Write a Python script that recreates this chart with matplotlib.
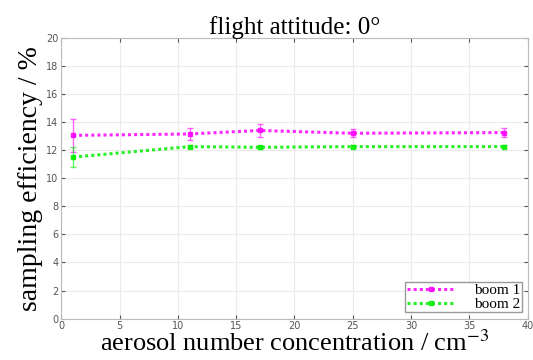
import matplotlib.pyplot as plt
import numpy as np

plt.rcParams['mathtext.fontset'] = 'stix'

conc = [1, 11, 17, 25, 38]
boom1 = [13.05, 13.15, 13.4, 13.2, 13.25]
boom1_err = [1.2, 0.4, 0.45, 0.3, 0.3]
boom2 = [11.5, 12.25, 12.2, 12.25, 12.25]
boom2_err = [0.7, 0.1, 0.1, 0.1, 0.1]

fig = plt.figure(figsize=(5.33, 3.6), dpi=100)
ax = fig.add_axes([0.115, 0.115, 0.875, 0.78])

ax.errorbar(conc, boom1, yerr=boom1_err, color='#ff00ff', ls='none',
            capsize=2, elinewidth=1, alpha=0.6)
ax.errorbar(conc, boom2, yerr=boom2_err, color='#00ee00', ls='none',
            capsize=2, elinewidth=1, alpha=0.6)
ax.plot(conc, boom1, color='#ff00ff', ls=(0, (1, 1)), lw=2.2, marker='s', ms=3,
        alpha=0.85, label='boom 1')
ax.plot(conc, boom2, color='#00ee00', ls=(0, (1, 1)), lw=2.2, marker='s', ms=3,
        alpha=0.85, label='boom 2')

ax.set_xlim(0, 40)
ax.set_ylim(0, 20)
ax.set_xticks(np.arange(0, 41, 5))
ax.set_yticks(np.arange(0, 21, 2))
ax.grid(True, color='#ebebeb', lw=0.8)
ax.tick_params(direction='in', labelsize=7, colors='#555555', length=3,
               top=True, right=True, pad=2)
for s in ax.spines.values():
    s.set_color('#bbbbbb')

serif = 'Liberation Serif'
ax.set_title('flight attitude: 0°', fontsize=18, family=serif, pad=3)
ax.set_xlabel('aerosol number concentration / cm$^{-3}$', fontsize=19,
              family=serif, labelpad=-1)
ax.set_ylabel('sampling efficiency / %', fontsize=20, family=serif, labelpad=2)

leg = ax.legend(loc='lower right', prop={'family': serif, 'size': 11},
                fancybox=False, borderpad=0.1, labelspacing=0.0,
                handlelength=3.2, handletextpad=1.2, borderaxespad=0.4,
                framealpha=1)
leg.get_frame().set_edgecolor('#999999')

plt.savefig('out.png', dpi=100)
